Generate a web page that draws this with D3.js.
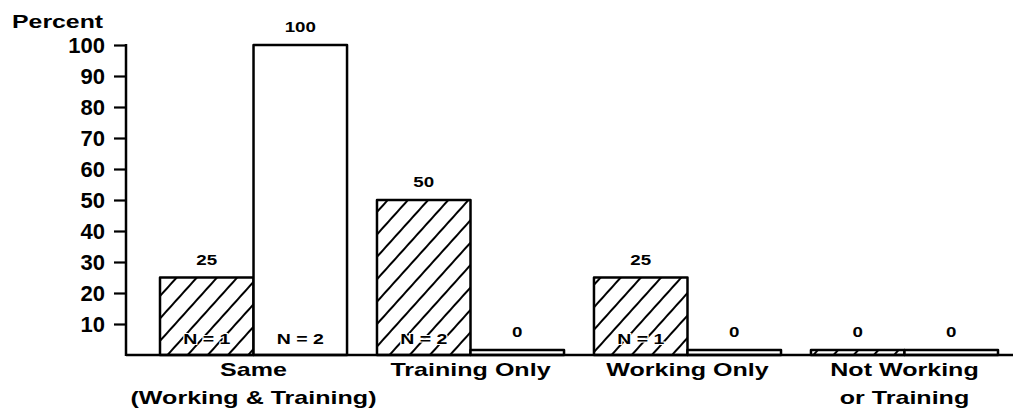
<!DOCTYPE html>
<html><head><meta charset="utf-8">
<script src="https://cdn.jsdelivr.net/npm/d3@7"></script>
<style>body{margin:0;background:#fff}svg{display:block}</style>
</head><body>
<svg id="c" width="1019" height="417"></svg>
<script>
// ---- data ----
const categories = [["Same", "(Working & Training)"], ["Training Only"], ["Working Only"], ["Not Working", "or Training"]];
const seriesNames = ["hatched", "open"];
const hatchedValues = [25, 50, 25, 0];
const openValues = [100, 0, 0, 0];
const hatchedN = ["N = 1", "N = 2", "N = 1", ""];
const openN = ["N = 2", "", "", ""];
const yTicks = [10, 20, 30, 40, 50, 60, 70, 80, 90, 100];
const yTitle = "Percent";

// ---- layout ----
const svg = d3.select("#c");
const FONT = "'Liberation Sans', Arial, Helvetica, sans-serif";
const baseY = 355, topY = 45, axisX = 126, axisRight = 1013;
const y = d3.scaleLinear().domain([0, 100]).range([baseY, topY]);
const x0 = d3.scaleBand().domain(d3.range(categories.length)).range([160, 998]).paddingInner(0.138).paddingOuter(0);
const x1 = d3.scaleBand().domain(seriesNames).range([0, x0.bandwidth()]);

const defs = svg.append("defs");
const pat = defs.append("pattern").attr("id", "hatch").attr("patternUnits", "userSpaceOnUse")
  .attr("width", 15).attr("height", 15).attr("patternTransform", "rotate(42)");
pat.append("rect").attr("width", 15).attr("height", 15).attr("fill", "#fff");
pat.append("line").attr("x1", 2).attr("x2", 2).attr("y1", 0).attr("y2", 15)
  .attr("stroke", "#000").attr("stroke-width", 2);

function txt(x, yy, s, size, sx, anchor, weight) {
  return svg.append("text")
    .attr("transform", `translate(${x},${yy}) scale(${sx},1)`)
    .attr("text-anchor", anchor || "middle")
    .attr("font-family", FONT).attr("font-size", size)
    .attr("font-weight", weight || "bold").attr("fill", "#000")
    .text(s);
}

// rows
const rows = categories.map((c, i) => ({
  i, vals: [
    {s: "hatched", v: hatchedValues[i], n: hatchedN[i]},
    {s: "open", v: openValues[i], n: openN[i]}
  ]
}));

const g = svg.append("g");
rows.forEach(r => {
  r.vals.forEach(d => {
    const bx = x0(r.i) + x1(d.s);
    const bw = x1.bandwidth();
    const top = d.v === 0 ? baseY - 5 : y(d.v);
    g.append("rect").attr("x", bx).attr("y", top).attr("width", bw).attr("height", baseY - top)
      .attr("fill", d.s === "hatched" ? "url(#hatch)" : "#fff")
      .attr("stroke", "#000").attr("stroke-width", 2.5).attr("stroke-linejoin", "round");
    txt(bx + bw / 2, top - 13, String(d.v), 15, 1.25);
    if (d.n) {
      txt(bx + bw / 2, baseY - 11, d.n, 15, 1.3).attr("stroke", "#fff").attr("stroke-width", 2)
        .attr("paint-order", "stroke");
    }
  });
});

// axes
const yAxis = d3.axisLeft(y).tickValues(yTicks).tickSize(12).tickPadding(9).tickFormat(d3.format("d"));
const ya = svg.append("g").attr("transform", `translate(${axisX},0)`).call(yAxis);
ya.select(".domain").remove();
ya.selectAll(".tick line").attr("stroke", "#000").attr("stroke-width", 2.2);
ya.selectAll(".tick text").attr("font-family", FONT).attr("font-size", 22).attr("font-weight", "bold")
  .attr("fill", "#000").attr("dy", "0.36em");
svg.append("line").attr("x1", axisX).attr("x2", axisX).attr("y1", y(100) - 1).attr("y2", baseY + 1)
  .attr("stroke", "#000").attr("stroke-width", 2.5);
svg.append("line").attr("x1", axisX).attr("x2", axisRight).attr("y1", baseY).attr("y2", baseY)
  .attr("stroke", "#000").attr("stroke-width", 2.5);

// category labels
categories.forEach((c, i) => {
  const cx = x0(i) + x0.bandwidth() / 2;
  c.forEach((line, k) => txt(cx, 376 + k * 28, line, 19, 1.32, "middle", "600"));
});

txt(12, 28, yTitle, 18, 1.38, "start", "600");
</script>
</body></html>
